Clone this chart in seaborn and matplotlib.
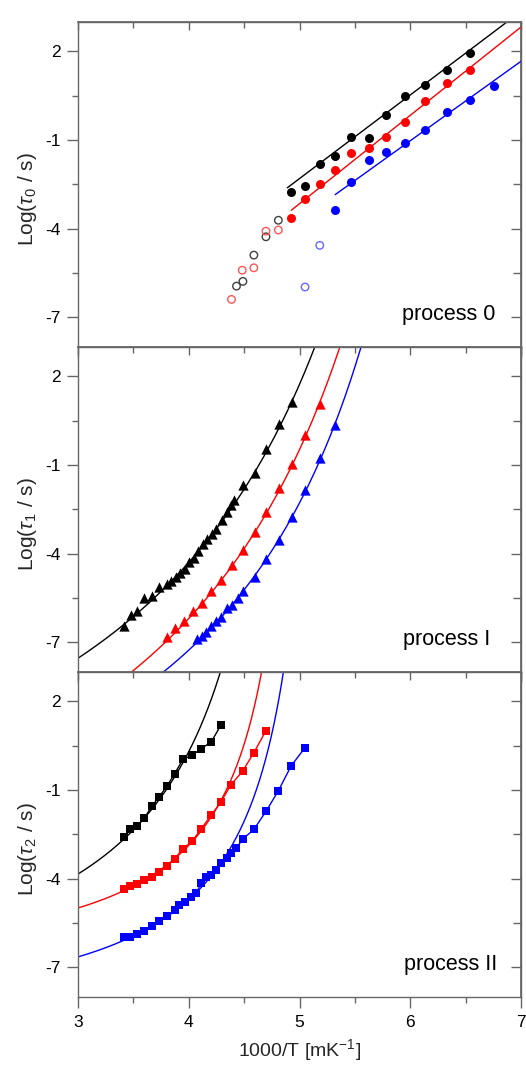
import numpy as np
import pandas as pd
import matplotlib
matplotlib.use("Agg")
import matplotlib.pyplot as plt
from matplotlib.ticker import MultipleLocator, FixedLocator
import seaborn as sns

sns.set_theme(style="white")
plt.rcParams['font.family'] = ['Liberation Sans', 'DejaVu Sans']
plt.rcParams['mathtext.fontset'] = 'custom'
plt.rcParams['mathtext.rm'] = 'Liberation Sans'
plt.rcParams['mathtext.it'] = 'Liberation Sans:italic'
plt.rcParams['axes.unicode_minus'] = False

# ---------------- data ----------------
colors = ["#000000", "#ff0000", "#0000ff"]
open_colors = ["#404040", "#ff5555", "#6666ff"]

# process 0 : filled circles
p0_black_x = [4.926, 5.050, 5.183, 5.322, 5.464, 5.624, 5.784, 5.953, 6.137, 6.330, 6.539]
p0_black_y = [-2.76, -2.56, -1.82, -1.53, -0.91, -0.93, -0.15, 0.48, 0.86, 1.37, 1.94]
p0_red_x = [4.926, 5.050, 5.183, 5.322, 5.464, 5.624, 5.784, 5.953, 6.137, 6.330, 6.539]
p0_red_y = [-3.65, -3.00, -2.49, -2.03, -1.45, -1.27, -0.91, -0.40, 0.33, 0.93, 1.35]
p0_blue_x = [5.322, 5.464, 5.624, 5.784, 5.953, 6.137, 6.330, 6.539, 6.756]
p0_blue_y = [-3.38, -2.44, -1.68, -1.42, -1.09, -0.65, -0.05, 0.34, 0.83]
# process 0 : open circles
p0o_black_x = [4.431, 4.489, 4.588, 4.697, 4.809]
p0o_black_y = [-5.95, -5.79, -4.90, -4.28, -3.72]
p0o_red_x = [4.386, 4.483, 4.588, 4.697, 4.809]
p0o_red_y = [-6.40, -5.41, -5.33, -4.09, -4.05]
p0o_blue_x = [5.050, 5.183]
p0o_blue_y = [-5.98, -4.57]
# process 0 : Arrhenius fits (slope, intercept, x start)
p0_fit_slope = [2.83, 2.99, 2.69]
p0_fit_intercept = [-16.46, -18.11, -17.17]
p0_fit_xstart = [4.89, 4.926, 5.322]

# process I : triangles
p1_black_x = [3.417, 3.477, 3.531, 3.598, 3.667, 3.734, 3.803, 3.839, 3.888, 3.924,
              3.963, 4.002, 4.045, 4.084, 4.126, 4.166, 4.211, 4.250, 4.298, 4.341,
              4.377, 4.407, 4.492, 4.594, 4.697, 4.812, 4.932]
p1_black_y = [-6.44, -6.08, -5.96, -5.49, -5.44, -5.15, -5.03, -4.94, -4.78, -4.66,
              -4.53, -4.30, -4.15, -3.91, -3.67, -3.51, -3.34, -3.17, -2.86, -2.60,
              -2.37, -2.18, -1.69, -1.27, -0.46, 0.39, 1.14]
p1_red_x = [3.803, 3.879, 3.954, 4.039, 4.120, 4.205, 4.292, 4.392, 4.492, 4.594,
            4.700, 4.812, 4.929, 5.050, 5.183]
p1_red_y = [-6.81, -6.53, -6.28, -5.96, -5.66, -5.28, -4.89, -4.38, -3.87, -3.28,
            -2.61, -1.78, -0.96, 0.00, 1.07]
p1_blue_x = [4.075, 4.120, 4.159, 4.205, 4.250, 4.295, 4.341, 4.392, 4.443, 4.492,
             4.594, 4.700, 4.812, 4.929, 5.050, 5.183, 5.322]
p1_blue_y = [-6.90, -6.78, -6.67, -6.47, -6.30, -6.15, -5.85, -5.73, -5.51, -5.28,
             -4.78, -4.19, -3.53, -2.78, -1.84, -0.77, 0.36]
# process I : VFT fits  log tau = A + D / (T - T0), T = 1000/x
p1_vft_A = [-11.96, -13.63, -13.50]
p1_vft_D = [869.0, 854.5, 700.8]
p1_vft_T0 = [136.5, 135.0, 137.5]

# process II : squares
p2_black_x = [3.411, 3.471, 3.531, 3.598, 3.667, 3.734, 3.803, 3.873, 3.948, 4.030,
              4.114, 4.202, 4.292]
p2_black_y = [-2.60, -2.33, -2.23, -1.96, -1.55, -1.23, -0.87, -0.45, 0.04, 0.17,
              0.40, 0.62, 1.20]
p2_red_x = [3.411, 3.471, 3.531, 3.598, 3.667, 3.734, 3.803, 3.873, 3.948, 4.030,
            4.114, 4.202, 4.292, 4.382, 4.486, 4.588, 4.697]
p2_red_y = [-4.36, -4.24, -4.18, -4.05, -3.95, -3.79, -3.57, -3.33, -2.99, -2.74,
            -2.31, -1.86, -1.40, -0.82, -0.37, 0.26, 1.00]
p2_blue_x = [3.411, 3.471, 3.531, 3.598, 3.667, 3.734, 3.803, 3.873, 3.915, 3.963,
             4.024, 4.069, 4.111, 4.159, 4.202, 4.247, 4.295, 4.341, 4.386, 4.431,
             4.486, 4.588, 4.697, 4.806, 4.926, 5.050]
p2_blue_y = [-5.98, -5.98, -5.87, -5.79, -5.62, -5.44, -5.28, -5.08, -4.89, -4.78,
             -4.63, -4.50, -4.15, -3.94, -3.87, -3.70, -3.47, -3.31, -3.12, -2.97,
             -2.67, -2.34, -1.73, -1.05, -0.18, 0.43]
p2_vft_A = [-6.88, -6.44, -8.13]
p2_vft_D = [437.6, 202.0, 216.8]
p2_vft_T0 = [189.0, 193.3, 186.5]

x_ticks = [3, 4, 5, 6, 7]
y_ticks = [-7, -4, -1, 2]
panel_labels = ["process 0", "process I", "process II"]
y_labels = [r"Log($\tau_0$ / s)", r"Log($\tau_1$ / s)", r"Log($\tau_2$ / s)"]
x_label = r"1000/T [mK$^{-1}$]"

# ---------------- figure ----------------
W, H = 526, 1065
fig = plt.figure(figsize=(W / 100, H / 100), dpi=100)
left = 78 / W
width = 443 / W
ph = 325 / H
bottoms = [1 - 346.7 / H, 1 - 671.7 / H, 1 - 996.7 / H]
spine_col = "#666666"
label_right_px = [495, 490, 497]

axes = [fig.add_axes([left, b, width, ph]) for b in bottoms]


def vft_curve(A, D, T0):
    xdiv = 1000.0 / T0
    xs = np.linspace(3.0, min(xdiv - 1e-3, 7.0), 600)
    ys = A + D / (1000.0 / xs - T0)
    m = ys < 4.5
    return xs[m], ys[m]


def scatter(ax, xs, ys, color, marker, size, filled=True):
    df = pd.DataFrame({"x": xs, "y": ys})
    if filled:
        sns.scatterplot(data=df, x="x", y="y", ax=ax, color=color, marker=marker,
                        s=size ** 2, edgecolor=color, linewidth=0, zorder=3)
    else:
        sns.scatterplot(data=df, x="x", y="y", ax=ax, marker=marker, s=size ** 2,
                        facecolor="none", edgecolor=color, linewidth=1.0, zorder=3)


def line(ax, xs, ys, color, lw=1.0):
    df = pd.DataFrame({"x": xs, "y": ys})
    sns.lineplot(data=df, x="x", y="y", ax=ax, color=color, lw=lw, sort=False,
                 estimator=None, zorder=2)


# process 0
ax = axes[0]
for c, sl, ic, xs0 in zip(colors, p0_fit_slope, p0_fit_intercept, p0_fit_xstart):
    xs = np.array([xs0, 7.0])
    line(ax, xs, ic + sl * xs, c)
for xs, ys, c in zip([p0_black_x, p0_red_x, p0_blue_x], [p0_black_y, p0_red_y, p0_blue_y], colors):
    scatter(ax, xs, ys, c, "o", 6.5)
for xs, ys, c in zip([p0o_black_x, p0o_red_x, p0o_blue_x], [p0o_black_y, p0o_red_y, p0o_blue_y], open_colors):
    scatter(ax, xs, ys, c, "o", 5.4, filled=False)

# process I
ax = axes[1]
for c, A, D, T0 in zip(colors, p1_vft_A, p1_vft_D, p1_vft_T0):
    xs, ys = vft_curve(A, D, T0)
    line(ax, xs, ys, c)
for xs, ys, c in zip([p1_black_x, p1_red_x, p1_blue_x], [p1_black_y, p1_red_y, p1_blue_y], colors):
    scatter(ax, xs, ys, c, "^", 7.4)

# process II
ax = axes[2]
for c, A, D, T0 in zip(colors, p2_vft_A, p2_vft_D, p2_vft_T0):
    xs, ys = vft_curve(A, D, T0)
    line(ax, xs, ys, c)
for xs, ys, c in zip([p2_black_x, p2_red_x, p2_blue_x], [p2_black_y, p2_red_y, p2_blue_y], colors):
    line(ax, xs, ys, c)
    scatter(ax, xs, ys, c, "s", 6.2)

minor_y = [-8.5, -5.5, -2.5, 0.5]
for i, ax in enumerate(axes):
    ax.set_xlim(3, 7)
    ax.set_ylim(-8, 3)
    ax.xaxis.set_major_locator(FixedLocator(x_ticks))
    ax.xaxis.set_minor_locator(MultipleLocator(0.5))
    ax.yaxis.set_major_locator(FixedLocator(y_ticks))
    ax.yaxis.set_minor_locator(FixedLocator(minor_y))
    ax.tick_params(axis="both", which="major", direction="out", length=8, width=1,
                   color=spine_col, labelsize=12.5, labelcolor="black",
                   bottom=True, left=True, top=False, right=False)
    ax.tick_params(axis="both", which="minor", direction="out", length=4, width=1,
                   color=spine_col, bottom=True, left=True, top=False, right=False)
    ax.tick_params(axis="y", pad=4.5)
    ax.tick_params(axis="x", labelbottom=(i == 2), pad=5)
    ax.set_yticklabels([str(t) for t in y_ticks])
    for s in ax.spines.values():
        s.set_color(spine_col)
        s.set_linewidth(1.0)
        s.set_visible(True)
    # mirrored inward ticks on top and right
    sx = ax.secondary_xaxis("top")
    sx.xaxis.set_major_locator(FixedLocator(x_ticks))
    sx.xaxis.set_minor_locator(MultipleLocator(0.5))
    sx.tick_params(which="major", direction="in", length=6, width=1, color=spine_col, labeltop=False)
    sx.tick_params(which="minor", direction="in", length=4, width=1, color=spine_col)
    sx.spines["top"].set_color(spine_col)
    sy = ax.secondary_yaxis("right")
    sy.yaxis.set_major_locator(FixedLocator(y_ticks))
    sy.yaxis.set_minor_locator(FixedLocator(minor_y))
    sy.tick_params(which="major", direction="in", length=7, width=1, color=spine_col, labelright=False)
    sy.tick_params(which="minor", direction="in", length=6, width=1, color=spine_col)
    sy.spines["right"].set_color(spine_col)

    ax.set_ylabel(y_labels[i], fontsize=15)
    ax.yaxis.set_label_coords(-39 / 443, 0.5 - 15 / 325)
    if i == 2:
        ax.set_xlabel(x_label, fontsize=14)
        ax.xaxis.set_label_coords(0.5, -40 / 325)
    else:
        ax.set_xlabel("")
    ax.text((label_right_px[i] - 78) / 443, 0.10, panel_labels[i], transform=ax.transAxes,
            ha="right", va="center", fontsize=15.5, color="black")

fig.savefig("out.png", dpi=100, facecolor="white")
